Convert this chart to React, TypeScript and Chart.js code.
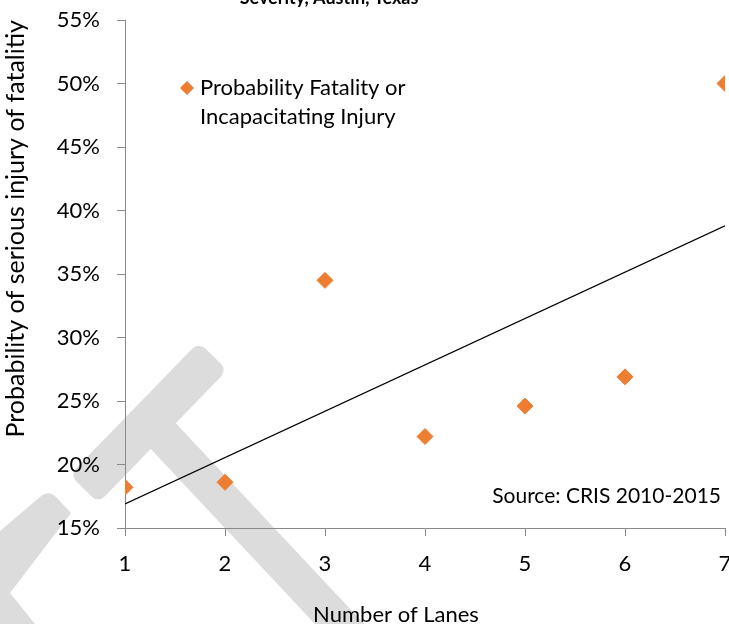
import { useEffect, useRef } from 'react';
import { Chart, registerables } from 'chart.js';

Chart.register(...registerables);

// ---- data ----
const lanes = [1, 2, 3, 4, 5, 6, 7];
const probability = [18.2, 18.6, 34.5, 22.2, 24.6, 26.9, 50.0];
const trendLanes = [1, 7];
const trendValues = [16.9, 38.8];
const seriesLabelLines = ['Probability Fatality or', 'Incapacitating Injury'];
const chartTitle = 'Severity, Austin, Texas';
const xAxisTitle = 'Number of Lanes';
const yAxisTitle = 'Probability of serious injury of fatalitiy';
const sourceNote = 'Source: CRIS 2010-2015';

const FONT = 'Lato, "Open Sans", sans-serif';
const ORANGE = '#ED7D31';
const AXIS_GRAY = '#898989';
const WATERMARK = '#dcdcdc';

const watermarkPlugin = {
  id: 'watermark',
  beforeDraw(chart: any) {
    const ctx = chart.ctx as CanvasRenderingContext2D;
    ctx.save();
    ctx.fillStyle = WATERMARK;
    const bar = (x1: number, y1: number, x2: number, y2: number, w: number, r: number) => {
      const len = Math.hypot(x2 - x1, y2 - y1);
      ctx.save();
      ctx.translate((x1 + x2) / 2, (y1 + y2) / 2);
      ctx.rotate(Math.atan2(y2 - y1, x2 - x1));
      ctx.beginPath();
      (ctx as any).roundRect(-len / 2, -w / 2, len, w, r);
      ctx.fill();
      ctx.restore();
    };
    bar(84, 489, 213, 356, 40, 9);
    bar(151, 423, 380, 667, 36, 0);
    ctx.beginPath();
    ctx.moveTo(0, 531);
    ctx.lineTo(40, 497);
    ctx.quadraticCurveTo(49, 489, 57, 498);
    ctx.lineTo(71, 513);
    ctx.lineTo(10, 593);
    ctx.lineTo(48, 640);
    ctx.lineTo(0, 640);
    ctx.closePath();
    ctx.fill();
    ctx.restore();
  },
};

const textPlugin = {
  id: 'texts',
  afterDraw(chart: any) {
    const ctx = chart.ctx as CanvasRenderingContext2D;
    const area = chart.chartArea;
    ctx.save();
    // title (top cut off)
    ctx.fillStyle = '#000';
    ctx.font = `bold 18px ${FONT}`;
    ctx.textAlign = 'center';
    ctx.textBaseline = 'alphabetic';
    ctx.fillText(chartTitle, 329, 4);

    // legend
    const ds = chart.data.datasets[0];
    const lx = area.left + 62;
    const ly = area.top + 68;
    ctx.fillStyle = ds.backgroundColor;
    ctx.beginPath();
    ctx.moveTo(lx - 7, ly);
    ctx.lineTo(lx, ly - 7);
    ctx.lineTo(lx + 7, ly);
    ctx.lineTo(lx, ly + 7);
    ctx.closePath();
    ctx.fill();
    ctx.fillStyle = '#000';
    ctx.font = `22px ${FONT}`;
    ctx.textAlign = 'left';
    ctx.textBaseline = 'middle';
    seriesLabelLines.forEach((line, i) => ctx.fillText(line, lx + 13, ly + i * 29));

    // source note
    ctx.font = `21px ${FONT}`;
    ctx.textAlign = 'right';
    ctx.fillText(sourceNote, area.right - 4, area.bottom - 32);

    // x axis title
    ctx.textAlign = 'center';
    ctx.font = `22px ${FONT}`;
    ctx.fillText(xAxisTitle, 396, 615);
    ctx.restore();
  },
};

export default function App() {
  const ref = useRef<HTMLCanvasElement>(null);
  useEffect(() => {
    if (!ref.current) return;
    const gridOpts = {
      display: true,
      drawOnChartArea: false,
      drawTicks: true,
      tickLength: 8,
      color: AXIS_GRAY,
      lineWidth: 1,
    };
    const chart = new Chart(ref.current, {
      type: 'scatter',
      data: {
        datasets: [
          {
            label: seriesLabelLines.join(' '),
            data: lanes.map((x, i) => ({ x, y: probability[i] })),
            backgroundColor: ORANGE,
            borderColor: ORANGE,
            borderWidth: 1,
            pointStyle: 'rectRot',
            pointRadius: 8,
            order: 1,
          },
          {
            label: 'Trend',
            data: trendLanes.map((x, i) => ({ x, y: trendValues[i] })),
            showLine: true,
            borderColor: '#000',
            borderWidth: 1.3,
            pointRadius: 0,
            order: 2,
          } as any,
        ],
      },
      options: {
        responsive: false,
        animation: false,
        devicePixelRatio: 1,
        layout: { padding: { left: 0, top: 20, right: 35, bottom: 0 } },
        plugins: {
          legend: { display: false },
          tooltip: { enabled: false },
          title: { display: false },
        },
        scales: {
          x: {
            type: 'linear',
            min: 1,
            max: 7,
            ticks: { stepSize: 1, color: '#000', font: { family: FONT, size: 22 }, padding: 15 },
            grid: gridOpts,
            border: { color: AXIS_GRAY, width: 1 },
            afterFit: (s: any) => {
              s.height = 102;
              s.paddingTop = 0;
              s.paddingBottom = 0;
            },
          },
          y: {
            min: 15,
            max: 55,
            ticks: {
              stepSize: 5,
              color: '#000',
              font: { family: FONT, size: 22 },
              padding: 17,
              callback: (v: any) => `${v}%`,
            },
            grid: gridOpts,
            border: { color: AXIS_GRAY, width: 1 },
            title: {
              display: true,
              text: yAxisTitle,
              align: 'end',
              color: '#000',
              font: { family: FONT, size: 25 },
              padding: { top: 1, bottom: 0 },
            },
            afterFit: (s: any) => {
              s.width = 125;
              s.paddingTop = 0;
              s.paddingBottom = 0;
            },
          },
        },
      } as any,
      plugins: [watermarkPlugin, textPlugin],
    });
    return () => chart.destroy();
  }, []);

  return (
    <div
      style={{
        position: 'absolute',
        left: 0,
        top: 0,
        width: 729,
        height: 624,
        overflow: 'hidden',
        background: '#fff',
      }}
    >
      <canvas ref={ref} width={760} height={630} style={{ display: 'block', width: 760, height: 630 }} />
    </div>
  );
}
